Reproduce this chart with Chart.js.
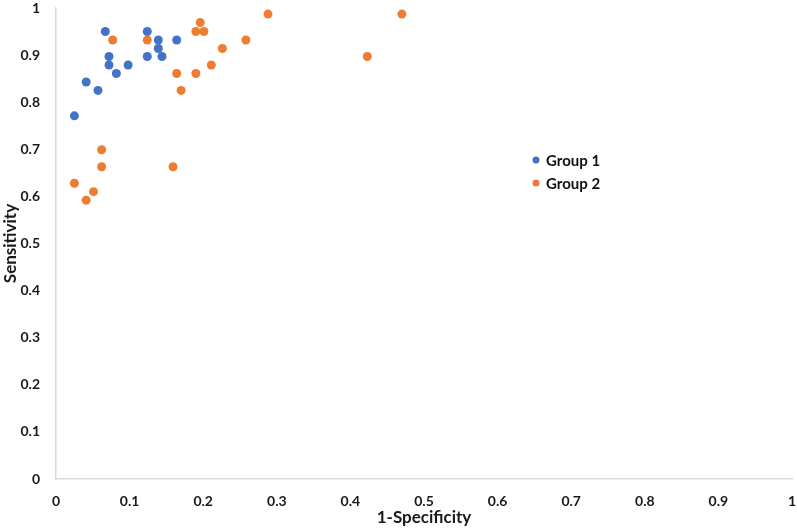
<!DOCTYPE html>
<html>
<head>
<meta charset="utf-8">
<script src="https://cdn.jsdelivr.net/npm/chart.js@4.4.0/dist/chart.umd.min.js"></script>
<style>
  html, body { margin: 0; padding: 0; background: #fff; }
  #wrap { position: relative; width: 797px; height: 528px; }
</style>
</head>
<body>
<div id="wrap"><canvas id="rocChart" width="797" height="528"></canvas></div>
<script>
// series values
const seriesNames = ['Group 1', 'Group 2'];
const group1X = [0.067, 0.124, 0.072, 0.072, 0.082, 0.098, 0.124, 0.139, 0.139, 0.144, 0.164, 0.041, 0.057, 0.025];
const group1Y = [0.950, 0.950, 0.897, 0.879, 0.861, 0.879, 0.897, 0.932, 0.914, 0.897, 0.932, 0.843, 0.825, 0.771];
const group2X = [0.077, 0.124, 0.196, 0.190, 0.201, 0.226, 0.211, 0.164, 0.190, 0.170, 0.288, 0.470, 0.258, 0.423, 0.062, 0.062, 0.159, 0.025, 0.051, 0.041];
const group2Y = [0.932, 0.932, 0.969, 0.950, 0.950, 0.914, 0.879, 0.861, 0.861, 0.825, 0.987, 0.987, 0.932, 0.897, 0.699, 0.663, 0.663, 0.628, 0.610, 0.592];
const xTickLabels = ['0', '0.1', '0.2', '0.3', '0.4', '0.5', '0.6', '0.7', '0.8', '0.9', '1'];
const yTickLabels = ['0', '0.1', '0.2', '0.3', '0.4', '0.5', '0.6', '0.7', '0.8', '0.9', '1'];
const colors = ['#4472C4', '#ED7D31'];

const FONT = 'Lato, "Liberation Sans", sans-serif';

function toPoints(xs, ys) {
    return xs.map((x, i) => ({ x: x, y: ys[i] }));
}

// legend drawn inside the plot, like the original
const innerLegend = {
    id: 'innerLegend',
    afterDraw(chart) {
        const ctx = chart.ctx;
        ctx.save();
        ctx.font = 'bold 15px ' + FONT;
        ctx.textBaseline = 'middle';
        chart.data.datasets.forEach((ds, i) => {
            const y = 160 + i * 23;
            ctx.fillStyle = ds.backgroundColor;
            ctx.beginPath();
            ctx.arc(536, y, 3.5, 0, Math.PI * 2);
            ctx.fill();
            ctx.fillStyle = '#111';
            ctx.fillText(ds.label, 546, y + 1);
        });
        ctx.restore();
    }
};

const cdata = {
    datasets: [
        {
            label: seriesNames[0],
            data: toPoints(group1X, group1Y),
            backgroundColor: colors[0],
            borderWidth: 0,
            pointRadius: 4.5,
        },
        {
            label: seriesNames[1],
            data: toPoints(group2X, group2Y),
            backgroundColor: colors[1],
            borderWidth: 0,
            pointRadius: 4.5,
        }
    ]
};

const config = {
    type: 'scatter',
    data: cdata,
    plugins: [innerLegend],
    options: {
        responsive: false,
        animation: false,
        layout: { padding: { top: 0, right: 0, left: 0, bottom: 0 } },
        plugins: {
            legend: { display: false },
            tooltip: { enabled: false },
        },
        scales: {
            x: {
                type: 'linear',
                min: 0,
                max: 1,
                grid: { display: false },
                border: { display: true, color: '#d9d9d9', width: 1.5 },
                ticks: {
                    stepSize: 0.1,
                    padding: 6,
                    color: '#1a1a1a',
                    font: { family: FONT, size: 14, weight: 'bold' },
                    callback: (v, i) => xTickLabels[i],
                },
                title: {
                    display: true,
                    text: '1-Specificity',
                    color: '#1a1a1a',
                    font: { family: FONT, size: 17, weight: 'bold' },
                    padding: { top: 0, bottom: 0 },
                },
                afterFit: (s) => { s.height = 49; s.paddingRight = 5; },
            },
            y: {
                min: 0,
                max: 1,
                grid: { display: false },
                border: { display: true, color: '#d9d9d9', width: 1.5 },
                ticks: {
                    stepSize: 0.1,
                    padding: 8,
                    color: '#1a1a1a',
                    font: { family: FONT, size: 14, weight: 'bold' },
                    callback: (v, i) => yTickLabels[i],
                },
                title: {
                    display: true,
                    text: 'Sensitivity',
                    color: '#1a1a1a',
                    font: { family: FONT, size: 17, weight: 'bold' },
                    padding: { top: 0, bottom: 2 },
                },
                afterFit: (s) => { s.width = 56; s.paddingTop = 8; },
            }
        }
    }
};

let ctx = document.getElementById('rocChart').getContext('2d');
var myChart = new Chart(ctx, config);
</script>
</body>
</html>
